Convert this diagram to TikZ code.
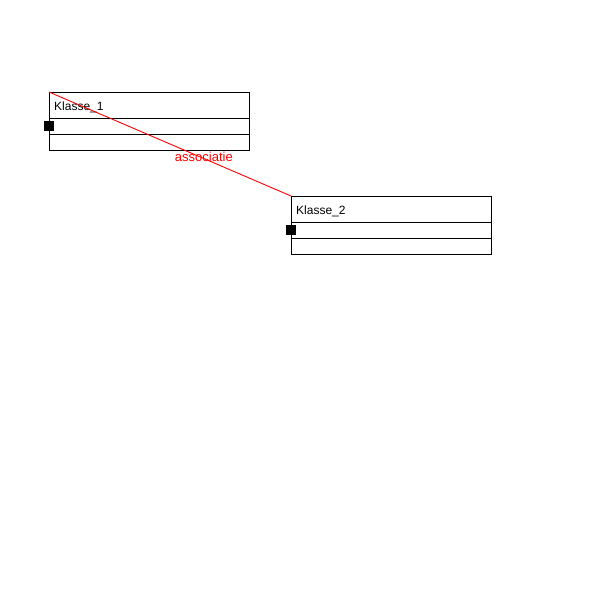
\documentclass[tikz,border=0pt]{standalone}
\usepackage{fontspec}
\setmainfont{Liberation Sans}
\begin{document}
\begin{tikzpicture}[x=1pt,y=-1pt,
  classbox/.style={draw=black,line width=1pt,fill=white,minimum width=200pt,minimum height=58pt,inner sep=0pt,anchor=north west},
  divider/.style={draw=black,line width=1pt},
  portsq/.style={fill=black,draw=none,minimum width=10pt,minimum height=10pt,inner sep=0pt},
  classname/.style={font=\fontsize{12}{14}\selectfont,anchor=base west,inner sep=0pt},
  assoc/.style={draw=red,line width=0.9pt},
  assoclabel/.style={text=red,font=\fontsize{13}{15}\selectfont,inner sep=0pt}]
\useasboundingbox (0,0) rectangle (600,600);
% class 1
\node[classbox] (k1) at (49,92) {};
\draw[divider] ([yshift=-26pt]k1.north west) coordinate (k1a) -- ([yshift=-26pt]k1.north east) coordinate (k1b);
\draw[divider] ([yshift=-42pt]k1.north west) coordinate (k1c) -- ([yshift=-42pt]k1.north east) coordinate (k1d);
\node[classname] (k1n) at (54,110) {Klasse\_1};
\node[portsq] (p1) at (49,126) {};
% class 2
\node[classbox] (k2) at (291,196) {};
\draw[divider] ([yshift=-26pt]k2.north west) coordinate (k2a) -- ([yshift=-26pt]k2.north east) coordinate (k2b);
\draw[divider] ([yshift=-42pt]k2.north west) coordinate (k2c) -- ([yshift=-42pt]k2.north east) coordinate (k2d);
\node[classname] (k2n) at (296,214) {Klasse\_2};
\node[portsq] (p2) at (291,230) {};
% association
\draw[assoc] (k1.north west) -- node[assoclabel,pos=0.64,yshift=1.5pt] (al) {associatie} (k2.north west);
\end{tikzpicture}
\end{document}
